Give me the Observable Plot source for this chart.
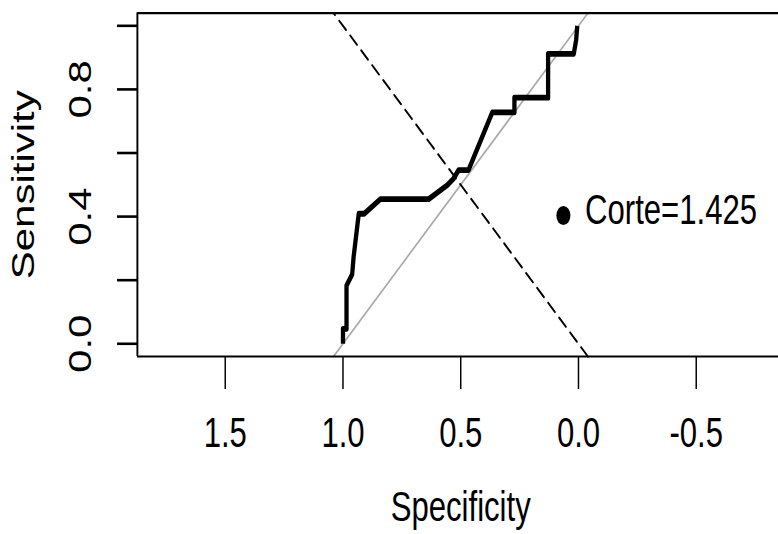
<!DOCTYPE html>
<html><head><meta charset="utf-8">
<script src="https://cdn.jsdelivr.net/npm/d3@7"></script>
<script src="https://cdn.jsdelivr.net/npm/@observablehq/plot@0.6"></script>
<style>html,body{margin:0;padding:0;background:#fff;} svg{display:block}</style>
</head><body><div id="chart"></div>
<script>
// ROC curve points (specificity, sensitivity)
const specificity = [1.0, 1.0, 0.985, 0.985, 0.961, 0.955, 0.933, 0.91, 0.841, 0.636, 0.555, 0.53, 0.509, 0.467, 0.366, 0.272, 0.272, 0.129, 0.129, 0.02, 0.01, 0.005];
const sensitivity = [0.0, 0.047, 0.047, 0.183, 0.218, 0.272, 0.409, 0.409, 0.455, 0.455, 0.5, 0.52, 0.546, 0.546, 0.728, 0.728, 0.774, 0.774, 0.912, 0.912, 0.955, 1.0];
const xTicks = [1.5, 1.0, 0.5, 0.0, -0.5];
const yTicks = [0, 0.2, 0.4, 0.6, 0.8, 1.0];
const yTickLabels = [0, 0.4, 0.8];
const cutoffLabel = "Corte=1.425";
const cutoffSpec = [0.064];
const cutoffSens = [0.4035];
const refRange = [-0.04, 1.04];
const xLimits = [1.873, -0.873];
const yLimits = [-0.04, 1.04];
const xTitle = "Specificity";
const yTitle = "Sensitivity";

const W = 1051, H = 534;
const roc = specificity.map((s, i) => ({spec: s, sens: sensitivity[i]}));
const cutoff = cutoffSpec.map((s, i) => ({spec: s, sens: cutoffSens[i]}));
const font = "'Liberation Sans', Arial, Helvetica, sans-serif";
const fmt = d => d.toFixed(1);

const plot = Plot.plot({
  width: W, height: H,
  marginLeft: 185.1, marginRight: W - 1058.7, marginTop: 12.6, marginBottom: H - 356,
  style: {fontFamily: font, background: "white", color: "black"},
  x: {domain: xLimits, range: [185.1, 1058.7]},
  y: {domain: yLimits, range: [356, 12.6]},
  marks: [
    Plot.line(refRange, {x: d => d, y: d => 1 - d, stroke: "#a9a9a9", strokeWidth: 2}),
    Plot.line(roc, {x: "spec", y: "sens", stroke: "black", strokeWidth: 5.8, strokeLinejoin: "round", strokeLinecap: "butt"}),
    Plot.line(refRange, {x: d => d, y: d => d, stroke: "black", strokeWidth: 2.3, strokeDasharray: "13,8"}),
    Plot.ruleY(yLimits, {x1: xLimits[0], x2: xLimits[1], stroke: "black", strokeWidth: 2.2}),
    Plot.ruleX(xLimits, {y1: yLimits[0], y2: yLimits[1], stroke: "black", strokeWidth: 2.6}),
    Plot.axisX({ticks: xTicks, tickSize: 33, tickPadding: 28, fontSize: 42, tickFormat: fmt, label: null, strokeWidth: 2}),
    Plot.axisY({ticks: yTicks, tickSize: 27, tickFormat: () => "", label: null, strokeWidth: 2.6}),
    Plot.text(yTickLabels, {y: d => d, text: fmt, frameAnchor: "left", dx: -75.6, rotate: -90, lineAnchor: "middle", textAnchor: "middle", fontSize: 42}),
    Plot.text([yTitle], {y: () => 0.5, text: d => d, frameAnchor: "left", dx: -152.7, rotate: -90, lineAnchor: "middle", textAnchor: "middle", fontSize: 42}),
    Plot.text([xTitle], {x: () => 0.5, text: d => d, frameAnchor: "bottom", dy: 151.5, lineAnchor: "middle", textAnchor: "middle", fontSize: 42}),
    Plot.dot(cutoff, {x: "spec", y: "sens", r: 9.5, fill: "black", stroke: null}),
    Plot.text(cutoff, {x: "spec", y: "sens", text: () => cutoffLabel, textAnchor: "start", lineAnchor: "middle", dx: 29.3, dy: -5, fontSize: 42})
  ]
});
plot.setAttribute("width", 778);
plot.setAttribute("height", 534);
plot.setAttribute("preserveAspectRatio", "none");
plot.style.width = "778px";
plot.style.height = "534px";
plot.style.maxWidth = "none";
document.getElementById("chart").appendChild(plot);
</script>
</body></html>
